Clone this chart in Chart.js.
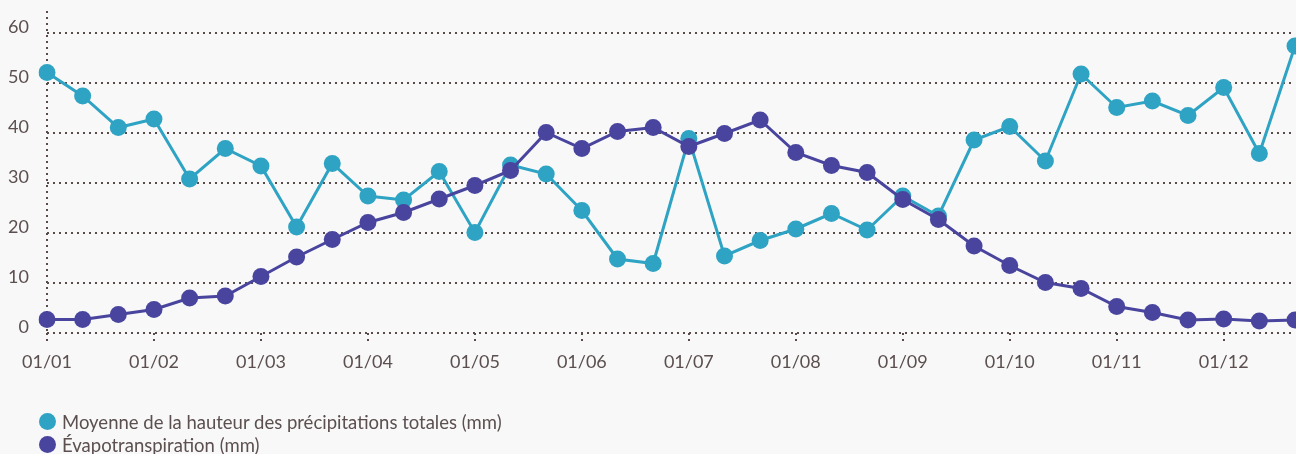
<!DOCTYPE html>
<html lang="fr">
<head>
<meta charset="utf-8">
<title>Précipitations et évapotranspiration</title>
<script src="https://cdn.jsdelivr.net/npm/chart.js@4/dist/chart.umd.min.js"></script>
<style>
  html, body { margin: 0; padding: 0; background: #f8f8f8; }
  #wrap { position: relative; width: 1296px; height: 454px; overflow: hidden; }
  #wrap canvas { position: absolute; left: 0; top: 0; }
  #legend {
    position: absolute; left: 39px; top: 410px;
    font-family: Lato, "Noto Sans", sans-serif; font-size: 18.5px; color: #5b4f4f;
  }
  #legend .item { display: flex; align-items: center; height: 23px; }
  #legend .dot { width: 17px; height: 17px; border-radius: 50%; margin-right: 6px; flex: none; }
</style>
</head>
<body>
<div id="wrap">
  <canvas id="chart" width="1296" height="454"></canvas>
  <div id="legend"></div>
</div>
<script>
// Décades de l'année (1er, 11 et 21 de chaque mois)
const months = ['01','02','03','04','05','06','07','08','09','10','11','12'];
const dekads = [];
months.forEach(m => { dekads.push('01/' + m, '11/' + m, '21/' + m); });

// Valeurs par décade (mm)
const precipitation = [52.1, 47.4, 41.1, 42.8, 30.8, 36.9, 33.4, 21.2, 33.9, 27.4, 26.6, 32.3,
                       20.1, 33.6, 31.8, 24.5, 14.8, 13.9, 38.9, 15.4, 18.5, 20.8, 23.9, 20.6,
                       27.4, 23.4, 38.6, 41.3, 34.4, 51.8, 45.1, 46.4, 43.5, 49.1, 35.9, 57.4];
const evapotranspiration = [2.7, 2.7, 3.7, 4.7, 7.0, 7.4, 11.3, 15.2, 18.7, 22.1, 24.1, 26.8,
                            29.5, 32.5, 40.1, 36.9, 40.3, 41.1, 37.3, 39.9, 42.6, 36.1, 33.5, 32.1,
                            26.7, 22.7, 17.4, 13.5, 10.1, 8.9, 5.3, 4.1, 2.6, 2.8, 2.4, 2.6];

const yTicks = [0, 10, 20, 30, 40, 50, 60];

const seriesNames = ['Moyenne de la hauteur des précipitations totales (mm)', 'Évapotranspiration (mm)'];
const seriesColors = ['#2ea3c3', '#49459e'];

const textColor = '#5b4f4f';
const dotColor = '#5a4b4b';
const font = { family: 'Lato, "Noto Sans", sans-serif', size: 18 };

function lineDataset(label, data, color, order) {
  return {
    label, data, order,
    borderColor: color,
    backgroundColor: color,
    borderWidth: 3,
    tension: 0,
    pointRadius: 8.5,
    pointHoverRadius: 8.5,
    pointBorderWidth: 0,
    fill: false
  };
}

const chart = new Chart(document.getElementById('chart'), {
  type: 'line',
  data: {
    labels: dekads,
    datasets: [
      lineDataset(seriesNames[0], precipitation, seriesColors[0], 1),
      lineDataset(seriesNames[1], evapotranspiration, seriesColors[1], 0)
    ]
  },
  options: {
    responsive: false,
    animation: false,
    layout: { autoPadding: false, padding: { top: 11, right: 1, left: 0, bottom: 81 } },
    plugins: { legend: { display: false }, tooltip: { enabled: false } },
    scales: {
      x: {
        offset: false,
        border: { display: false, dash: [2, 4] },
        grid: {
          lineWidth: 2,
          color: c => c.index === 0 ? dotColor : 'transparent',
          tickColor: c => c.index % 3 === 0 ? dotColor : 'transparent',
          tickLength: 12,
          tickBorderDash: [2, 4]
        },
        ticks: {
          autoSkip: false,
          maxRotation: 0,
          padding: 6,
          color: textColor,
          font,
          callback: (v, i) => i % 3 === 0 ? dekads[i] : ''
        },
        afterFit: s => { s.height = 40; s.paddingLeft = 0; s.paddingRight = 0; }
      },
      y: {
        min: 0,
        max: 64.4,
        border: { display: false, dash: [2, 4] },
        grid: { lineWidth: 2, color: dotColor, drawTicks: false },
        ticks: {
          stepSize: 10,
          padding: 18,
          labelOffset: -6,
          color: textColor,
          font
        },
        afterBuildTicks: s => { s.ticks = yTicks.map(v => ({ value: v })); },
        afterFit: s => { s.width = 47; s.paddingTop = 0; s.paddingBottom = 0; }
      }
    }
  }
});

// Légende sous le graphique
const legend = document.getElementById('legend');
chart.data.datasets.forEach(ds => {
  const item = document.createElement('div');
  item.className = 'item';
  const dot = document.createElement('span');
  dot.className = 'dot';
  dot.style.background = ds.borderColor;
  const txt = document.createElement('span');
  txt.textContent = ds.label;
  item.appendChild(dot);
  item.appendChild(txt);
  legend.appendChild(item);
});
</script>
</body>
</html>
